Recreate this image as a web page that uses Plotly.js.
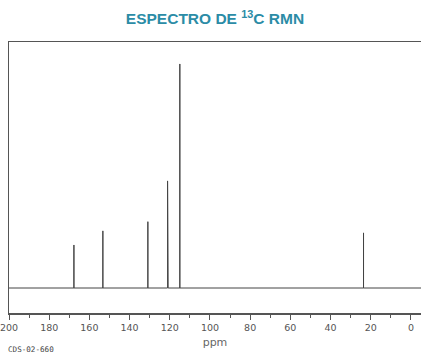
<!DOCTYPE html>
<html>
<head>
<meta charset="utf-8">
<script src="https://cdn.plot.ly/plotly-3.0.1.min.js"></script>
<style>html,body{margin:0;padding:0;background:#fff;}#chart{width:421px;height:353px;}</style>
</head>
<body>
<div id="chart"></div>
<script>
// Peak positions (ppm) and relative intensities
var peakShift = [167.7, 153.3, 130.9, 121.1, 120.8, 115.0, 23.6];
var peakIntensity = [19.2, 25.5, 29.6, 47.8, 45.0, 100, 24.6];
var baselineRange = [200, -5];
var tickValues = [200, 180, 160, 140, 120, 100, 80, 60, 40, 20, 0];
var tickLabels = ["200", "180", "160", "140", "120", "100", "80", "60", "40", "20", "0"];

// Build stick spectrum from the peak list
var order = peakShift.map(function(_, i){ return i; }).sort(function(a, b){ return peakShift[b] - peakShift[a]; });
var xs = [baselineRange[0]], ys = [0];
order.forEach(function(i){
  xs.push(peakShift[i], peakShift[i], peakShift[i]);
  ys.push(0, peakIntensity[i], 0);
});
xs.push(baselineRange[1]); ys.push(0);

var trace = {
  x: xs, y: ys, type: 'scatter', mode: 'lines',
  line: {color: '#444', width: 1}, hoverinfo: 'skip'
};

var layout = {
  width: 421, height: 353,
  margin: {l: 9, r: 0, t: 42, b: 40},
  paper_bgcolor: '#fff', plot_bgcolor: '#fff',
  showlegend: false,
  title: {
    text: 'ESPECTRO DE <sup>13</sup>C RMN',
    font: {family: 'Liberation Sans, Arial, sans-serif', size: 15.5, color: '#2b8ca6', weight: 'bold'},
    x: 0.5, xref: 'paper', xanchor: 'center',
    y: 1 - 19/353, yref: 'container', yanchor: 'middle'
  },
  xaxis: {
    range: [200, -5],
    tickvals: tickValues, ticktext: tickLabels,
    ticks: 'outside', ticklen: 5, tickcolor: '#555', tickwidth: 1,
    minor: {dtick: 10, ticks: 'outside', ticklen: 3, tickcolor: '#555', showgrid: false},
    showline: true, linecolor: '#555', linewidth: 1.5, mirror: true,
    showgrid: false, zeroline: false,
    ticklabeloverflow: 'allow',
    tickfont: {family: 'DejaVu Sans, Verdana, sans-serif', size: 9.5, color: '#555'},
    title: {text: 'ppm', font: {family: 'DejaVu Sans, Verdana, sans-serif', size: 11, color: '#666'}, standoff: 6}
  },
  yaxis: {
    range: [-11.16, 109.8],
    showline: true, linecolor: '#555', linewidth: 1.5, mirror: false,
    showticklabels: false, ticks: '', showgrid: false, zeroline: false
  },
  annotations: [{
    text: 'CDS-02-660', xref: 'paper', yref: 'paper',
    x: -3/412, y: -36/271, xanchor: 'left', yanchor: 'middle', showarrow: false,
    font: {family: 'DejaVu Sans Mono, monospace', size: 7.6, color: '#444'}
  }]
};

Plotly.newPlot('chart', [trace], layout, {displayModeBar: false, staticPlot: true});
</script>
</body>
</html>
